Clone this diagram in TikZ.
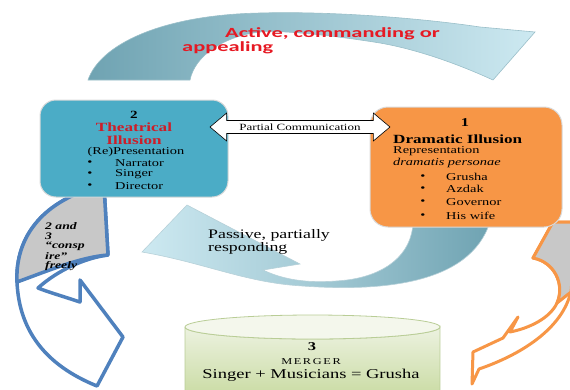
\documentclass[tikz,border=0pt]{standalone}
\usepackage{fontspec}
\setmainfont{Liberation Serif}[FakeStretch=1.37]
\newfontfamily\activefont{Carlito}[FakeStretch=1.6]
\newfontfamily\mergerfont{Liberation Serif}[FakeStretch=1.37,LetterSpace=18]
\usetikzlibrary{shapes.arrows}

\definecolor{tealdark}{RGB}{111,163,178}
\definecolor{teallight}{RGB}{205,233,241}
\definecolor{theablue}{RGB}{75,172,198}
\definecolor{dramorange}{RGB}{247,150,70}
\definecolor{activered}{RGB}{230,25,35}
\definecolor{theared}{RGB}{205,30,40}
\definecolor{conspblue}{RGB}{79,129,189}
\definecolor{conspgray}{RGB}{200,200,200}
\definecolor{mergetop}{RGB}{236,242,224}
\definecolor{mergebot}{RGB}{200,218,160}
\definecolor{mergeline}{RGB}{185,205,150}

\begin{document}
\begin{tikzpicture}[>=latex, x=1pt, y=-1pt,
  txt/.style={inner sep=0, font=\fontsize{10.5}{12}\selectfont},
  head/.style={inner sep=0, font=\fontsize{12.5}{14}\selectfont\bfseries},
  conspt/.style={inner sep=0, anchor=west, font=\fontsize{10}{11}\selectfont\bfseries\itshape},
  illbox/.style={rectangle, rounded corners=16pt, draw=gray!30, line width=1pt}]
\useasboundingbox (0,0) rectangle (570,389);
\begin{scope}

% active arrow on top
\shadedraw[left color=tealdark, right color=teallight, draw=tealdark!70!white, line width=0.6pt]
  (88,80) .. controls (100,45) and (160,15) .. (260,13) .. controls (330,11) and (420,18) .. (480,27)
  -- (535,32) -- (493,80) .. controls (460,65) and (420,50) .. (380,43)
  .. controls (330,35) and (280,30) .. (260,32) .. controls (225,36) and (195,55) .. (190,80) -- cycle;
\node[inner sep=0, anchor=west, text=activered, font=\fontsize{14}{16}\selectfont\activefont\bfseries] (act1) at (225,34) {Active, commanding or};
\node[inner sep=0, anchor=west, text=activered, font=\fontsize{14}{16}\selectfont\activefont\bfseries] (act2) at (182,48) {appealing};

% passive arrow below
\shadedraw[left color=teallight, right color=tealdark, middle color=tealdark!45!teallight, draw=tealdark!50!white, line width=0.6pt]
  (413,222) .. controls (412,255) and (385,275) .. (347,280) .. controls (320,283) and (290,283) .. (263,270)
  -- (300,264) -- (187,205) -- (142,252) .. controls (200,262) and (240,280) .. (290,285)
  .. controls (380,293) and (470,285) .. (490,222) -- cycle;
\node[inner sep=0, anchor=west, font=\fontsize{13}{15}\selectfont] (pas1) at (208,235) {Passive, partially};
\node[inner sep=0, anchor=west, font=\fontsize{13}{15}\selectfont] (pas2) at (208,248) {responding};

% 2 and 3 conspire
\filldraw[fill=white, draw=conspblue, line width=3.5pt, line join=round]
  (100,186) .. controls (45,200) and (15,235) .. (17,282) .. controls (19,330) and (45,365) .. (97,386)
  -- (123,337) -- (80,280) -- (80,302) .. controls (62,296) and (48,292) .. (38,288)
  .. controls (58,270) and (85,258) .. (108,255) -- (104,186) -- cycle;
\filldraw[fill=conspgray, draw=conspblue, line width=3.5pt, line join=round]
  (100,186) .. controls (45,200) and (15,235) .. (17,282) .. controls (45,272) and (80,257) .. (108,255)
  -- (104,186) -- cycle;
\node[conspt] (c1) at (45,226) {2 and};
\node[conspt] (c2) at (45,236) {3};
\node[conspt] (c3) at (45,246) {“consp};
\node[conspt] (c4) at (45,256) {ire”};
\node[conspt] (c5) at (45,266) {freely};

% orange arrow at the right
\filldraw[fill=white, draw=dramorange, line width=3pt, line join=round]
  (553,222) -- (533,258) .. controls (555,262) and (565,285) .. (557,303) .. controls (550,318) and (530,328) .. (510,332)
  -- (518,317) -- (503,338) -- (473,352) -- (472,384) -- (479,369)
  .. controls (520,355) and (560,330) .. (570,295) .. controls (575,275) and (576,250) .. (577,222) -- cycle;
\filldraw[fill=conspgray, draw=dramorange, line width=3pt, line join=round]
  (553,222) -- (533,258) .. controls (555,262) and (565,285) .. (557,303) -- (571,292) -- (577,222) -- cycle;

% merger
\shadedraw[top color=mergetop, bottom color=mergebot, draw=mergeline, line width=0.8pt]
  (185,327) -- (185,400) -- (440,400) -- (440,327) arc[start angle=0, end angle=180, x radius=127.5, y radius=12];
\filldraw[fill=mergetop!60!white, draw=mergeline, line width=0.8pt] (312.5,327) ellipse[x radius=127.5, y radius=12];
\node[inner sep=0, font=\fontsize{12}{14}\selectfont\bfseries] (p3) at (312,347) {3};
\node[inner sep=0, font=\fontsize{9}{10}\selectfont\mergerfont] (p3_m) at (311,362) {MERGER};
\node[inner sep=0, font=\fontsize{13.5}{15}\selectfont] (p3_s) at (311,375) {Singer + Musicians = Grusha};

% theatrical illusion
\node[illbox, fill=theablue, minimum width=188pt, minimum height=97pt] (p2) at (134,148.5) {};
\node[inner sep=0, font=\fontsize{11}{12}\selectfont\bfseries] (p2_n) at (134,115) {2};
\node[head, text=theared] (p2_t) at (134,127) {Theatrical};
\node[head, text=theared] (p2_i) at (134,140) {Illusion};
\node[txt] (p2_r) at (136,152) {(Re)Presentation};
\node[txt] (p2_b1) at (90,163) {\textbullet};
\node[txt, anchor=west] (p2_l1) at (115,163) {Narrator};
\node[txt] (p2_b2) at (90,174) {\textbullet};
\node[txt, anchor=west] (p2_l2) at (115,174) {Singer};
\node[txt] (p2_b3) at (90,186) {\textbullet};
\node[txt, anchor=west] (p2_l3) at (115,186) {Director};

% dramatic illusion
\node[illbox, fill=dramorange, minimum width=192pt, minimum height=120pt, rounded corners=18pt] (p1) at (466,167) {};
\node[inner sep=0, font=\fontsize{12}{13}\selectfont\bfseries] (p1_n) at (465,123) {1};
\node[head, anchor=west] (p1_t) at (393,139) {Dramatic Illusion};
\node[txt, anchor=west] (p1_r) at (393,151) {Representation};
\node[txt, anchor=west] (p1_d) at (393,163) {\itshape dramatis personae};
\node[txt] (p1_b1) at (423,177) {\textbullet};
\node[txt, anchor=west] (p1_l1) at (446,177) {Grusha};
\node[txt] (p1_b2) at (423,189) {\textbullet};
\node[txt, anchor=west] (p1_l2) at (446,189) {Azdak};
\node[txt] (p1_b3) at (423,202) {\textbullet};
\node[txt, anchor=west] (p1_l3) at (446,202) {Governor};
\node[txt] (p1_b4) at (423,216) {\textbullet};
\node[txt, anchor=west] (p1_l4) at (446,216) {His wife};

% partial communication
\node[double arrow, draw=black, fill=white, line width=0.6pt, minimum height=180pt, minimum width=28pt,
  double arrow head extend=7pt, double arrow tip angle=80, inner xsep=0pt, inner ysep=2.5pt,
  font=\fontsize{9.5}{10}\selectfont] (pc) at (300,127) {Partial Communication};

\end{scope}
\end{tikzpicture}
\end{document}
